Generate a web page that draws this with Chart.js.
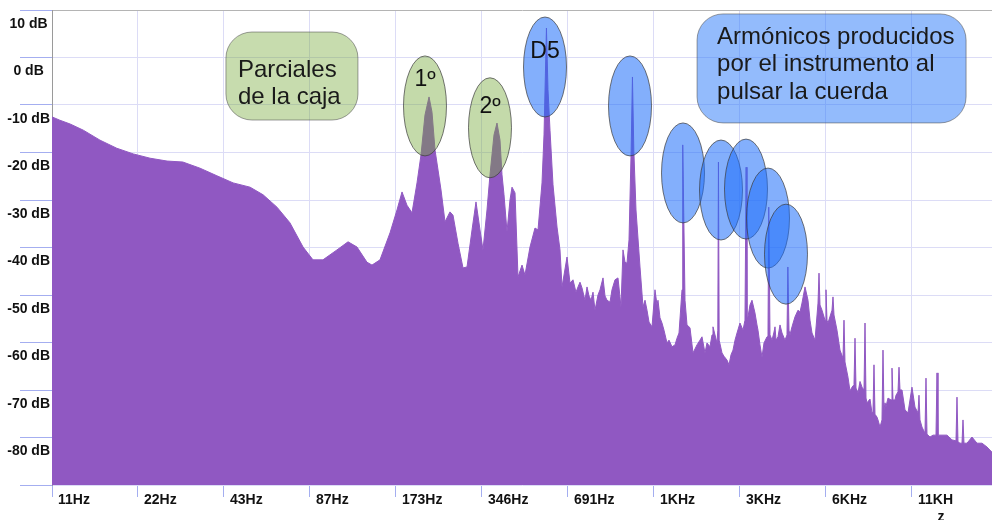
<!DOCTYPE html>
<html>
<head>
<meta charset="utf-8">
<script src="https://cdn.jsdelivr.net/npm/chart.js@4.4.1/dist/chart.umd.min.js"></script>
<style>
  html, body { margin: 0; padding: 0; background: #fff; }
  #grafico { display: block; }
</style>
</head>
<body>
<canvas id="grafico" width="992" height="520"></canvas>
<script>
// espectro de la guitarra (frecuencia en Hz, nivel en dB)
var freqHz = [
  10.8, 11.5, 12.5, 13.9, 15.9, 18.2, 20.8, 23.8, 27.3, 31.0,
  35.6, 40.8, 46.5, 53.3, 59.2, 66.2, 73.5, 81.7, 88.5, 95.9,
  107.4, 117.4, 126.2, 136.8, 142.4, 151.9, 164.7, 174.2, 181.4, 188.8,
  196.6, 204.7, 211.4, 218.3, 225.5, 231.0, 236.7, 242.5, 248.4, 256.5,
  267.0, 273.6, 284.8, 296.6, 306.3, 318.9, 329.3, 340.1, 348.4, 359.8,
  368.6, 380.7, 390.0, 399.6, 406.1, 412.7, 422.8, 433.1, 440.2, 451.0,
  462.0, 477.2, 488.7, 508.9, 529.8, 542.8, 560.6, 569.7, 581, 588.3,
  597.9, 612.6, 632.7, 648.1, 658.7, 685.8, 702.5, 719.6, 737.2, 749.3,
  761.4, 773.8, 792.7, 805.7, 818.7, 832.1, 845.6, 859.3, 880.4, 894.7,
  916.6, 931.5, 946.7, 969.8, 985.4, 1009.6, 1034.3, 1059.6, 1076.8, 1094.4,
  1112.1, 1130.3, 1150, 1162, 1175, 1195.8, 1235.0, 1265.3, 1285.8, 1306.8,
  1328, 1360.6, 1393.6, 1416.3, 1427.7, 1451, 1474.5, 1498.5, 1535.2, 1560.2,
  1598.3, 1637.5, 1664.1, 1691.2, 1732.6, 1743, 1775.0, 1803.9, 1848.0, 1893.3,
  1955.0, 2003, 2035.4, 2085.4, 2119.2, 2171.2, 2206.5, 2224.3, 2297, 2312,
  2324, 2338, 2391.7, 2430.7, 2490.1, 2530.6, 2571.7, 2613.5, 2656, 2699.1,
  2764.8, 2832.5, 2878.4, 2905, 2925.4, 2948.9, 2997, 3045.7, 3120.4, 3171,
  3196.7, 3248.6, 3301.5, 3355.1, 3437.3, 3465.1, 3486, 3521.5, 3578.8, 3636.9,
  3666.4, 3696, 3756.3, 3817, 3879.3, 3973.9, 4038.3, 4067, 4104.1, 4137.3,
  4204.5, 4307.3, 4412.9, 4484.5, 4557.5, 4669.2, 4783.4, 4861.4, 4940.1, 5061.3,
  5185.1, 5227.1, 5269.4, 5355.1, 5486.2, 5529.6, 5574.4, 5619.7, 5803.9, 5850.9,
  5897.9, 6042.8, 6190.4, 6341.9, 6393.3, 6445.3, 6602.9, 6710, 6819.6, 6930.2,
  6986.7, 7043.1, 7157.6, 7273.8, 7391.9, 7512.5, 7573.3, 7634.7, 7696.1, 7883.6,
  8011.9, 8076.6, 8141.9, 8208.2, 8341.5, 8409, 8545.5, 8684.8, 8755.0, 8825.8,
  8897.1, 8969, 9115.0, 9338.4, 9413.6, 9489.9, 9644.2, 9722, 9880.3, 9960.5,
  10041.2, 10204.3, 10454.3, 10710.3, 11059, 11330, 11608, 11702, 11796, 11988,
  12281, 12381, 12481, 12786, 13099, 13420, 13530, 13639, 13860, 14665,
  15269, 15767, 15895, 16023, 16283, 16549, 16683, 16817, 17229, 17938,
  18676, 19445, 20245, 21077
];
var levelDb = [
  -9.5, -10.2, -11.0, -12.3, -14.4, -16.1, -17.3, -18.2, -18.8, -19.0,
  -20.3, -21.9, -23.4, -24.3, -25.9, -28.5, -31.8, -36.9, -39.6, -39.6,
  -37.5, -35.8, -36.9, -40.1, -40.7, -39.6, -33.9, -29.1, -25.3, -28.1,
  -29.7, -23.4, -17.5, -9.1, -5.3, -8.5, -16.5, -20.7, -24.9, -31.6,
  -29.5, -30.2, -36.1, -41.3, -41.1, -33.3, -27.4, -33.3, -37.5, -29.1,
  -21.7, -13.3, -10.8, -14.4, -21.7, -25.9, -33.7, -27.0, -24.3, -25.5,
  -43.2, -40.7, -42.8, -36.9, -32.9, -33.3, -23.4, -13.3, 9.2, -3.8,
  -12.3, -23.8, -32.7, -37.5, -45.3, -39.0, -44.5, -43.8, -46.4, -45.3,
  -44.3, -45.5, -48.1, -45.3, -47.2, -48.1, -46.4, -50.2, -47.0, -45.9,
  -43.4, -47.2, -48.1, -48.5, -45.9, -43.8, -43.4, -49.5, -37.5, -40.1,
  -40.3, -35.4, -16.5, -1.1, -16.5, -29.1, -41.1, -49.5, -48.1, -50.2,
  -52.7, -53.7, -45.9, -49.1, -48.1, -51.8, -52.9, -54.4, -57.1, -56.5,
  -57.9, -57.5, -56.1, -55.0, -45.9, -15.4, -48.1, -53.3, -53.9, -59.2,
  -57.5, -56.5, -55.8, -59.2, -57.1, -57.9, -55.4, -53.7, -57.1, -54.4,
  -19.0, -56.5, -59.2, -59.9, -60.7, -61.7, -59.6, -58.6, -56.5, -55.0,
  -52.9, -54.4, -52.3, -20.1, -52.3, -51.6, -49.1, -48.1, -50.8, -53.3,
  -54.4, -57.5, -60.1, -57.1, -55.8, -55.4, -28.5, -55.4, -56.5, -54.8,
  -53.7, -56.5, -55.8, -53.3, -55.0, -56.5, -55.4, -41.1, -54.4, -55.4,
  -53.7, -51.6, -50.2, -50.6, -48.7, -45.3, -48.1, -52.3, -55.0, -56.5,
  -48.7, -42.4, -49.1, -50.2, -52.3, -45.9, -52.3, -52.9, -50.2, -47.4,
  -51.2, -54.4, -58.6, -60.3, -52.3, -61.1, -64.3, -67.2, -66.4, -65.9,
  -56.1, -66.6, -67.6, -65.2, -66.4, -67.0, -52.9, -68.7, -69.7, -68.9,
  -71.8, -71.6, -61.7, -72.1, -72.7, -73.3, -74.8, -73.3, -58.6, -71.2,
  -69.7, -70.5, -68.7, -69.1, -62.4, -69.1, -69.1, -68.1, -67.4, -62.2,
  -67.0, -67.0, -71.2, -71.8, -66.4, -70.6, -71.8, -68.1, -73.3, -74.8,
  -76.1, -64.5, -76.3, -76.9, -76.5, -76.5, -63.4, -76.5, -76.5, -76.5,
  -77.5, -77.7, -68.5, -77.9, -78.2, -78.2, -73.3, -78.2, -78.2, -76.9,
  -78.2, -78.2, -79.0, -80.1
];

// ejes
var xTickHz = [10.8, 21.6, 43.2, 86.4, 172.8, 345.6, 691.2, 1382.4, 2764.8, 5529.6, 11059.2];
var xTickLabels = ['11Hz', '22Hz', '43Hz', '87Hz', '173Hz', '346Hz', '691Hz', '1KHz', '3KHz', '6KHz', ['11KH', '     z']];
var yGridDb = [-87, -77, -67, -57, -47, -37, -27, -17, -7, 3, 13];
var yTickLabels = ['', '-80 dB', '-70 dB', '-60 dB', '-50 dB', '-40 dB', '-30 dB', '-20 dB', '-10 dB', '0 dB', '10 dB'];

var morado = '#9058c2';
var lila = '#dcdcf6';
var azulTick = '#a4aef0';

// anotaciones (centro en Hz / dB)
var verde = 'rgba(115,167,53,0.42)';
var azul = 'rgba(30,110,250,0.55)';
var elipses = [
  { hz: 218.3, db: -7.2, color: verde, texto: '1º', dy: -26 },
  { hz: 368.6, db: -11.8, color: verde, texto: '2º', dy: -21 },
  { hz: 574.3, db: 1.0, color: azul, texto: 'D5', dy: -15 },
  { hz: 1139.4, db: -7.2, color: azul },
  { hz: 1746.7, db: -21.3, color: azul },
  { hz: 2372.5, db: -24.9, color: azul },
  { hz: 2902, db: -24.7, color: azul },
  { hz: 3465, db: -30.8, color: azul },
  { hz: 4006, db: -38.4, color: azul }
];
var cajas = [
  { hz: 74.7, db: -0.9, w: 132, h: 88, color: 'rgba(115,167,53,0.4)',
    lineas: ['Parciales', 'de la caja'], tx: 12, ty: 38 },
  { hz: 5784, db: 0.7, w: 269, h: 109, color: 'rgba(40,120,250,0.5)',
    lineas: ['Armónicos producidos', 'por el instrumento al', 'pulsar la cuerda'], tx: 20, ty: 23 }
];

var notas = {
  id: 'notas',
  afterDatasetsDraw: function (chart) {
    var ctx = chart.ctx;
    var sx = chart.scales.x, sy = chart.scales.y;
    ctx.save();
    ctx.font = '24px "Liberation Sans", Arial, sans-serif';
    ctx.textBaseline = 'middle';

    cajas.forEach(function (c) {
      var cx = sx.getPixelForValue(c.hz), cy = sy.getPixelForValue(c.db);
      var x0 = cx - c.w / 2, y0 = cy - c.h / 2;
      ctx.beginPath();
      ctx.roundRect(x0, y0, c.w, c.h, 26);
      ctx.fillStyle = c.color;
      ctx.fill();
      ctx.lineWidth = 1;
      ctx.strokeStyle = 'rgba(80,80,80,0.55)';
      ctx.stroke();
      ctx.fillStyle = '#1a1a1a';
      ctx.textAlign = 'left';
      c.lineas.forEach(function (t, i) {
        ctx.fillText(t, x0 + c.tx, y0 + c.ty + i * 27.5);
      });
    });

    elipses.forEach(function (e) {
      var cx = sx.getPixelForValue(e.hz), cy = sy.getPixelForValue(e.db);
      ctx.beginPath();
      ctx.ellipse(cx, cy, 21.5, 50, 0, 0, Math.PI * 2);
      ctx.fillStyle = e.color;
      ctx.fill();
      ctx.lineWidth = 1;
      ctx.strokeStyle = 'rgba(60,60,60,0.7)';
      ctx.stroke();
    });
    ctx.font = '23px "Liberation Sans", Arial, sans-serif';
    elipses.forEach(function (e) {
      if (!e.texto) return;
      var cx = sx.getPixelForValue(e.hz), cy = sy.getPixelForValue(e.db);
      ctx.fillStyle = '#111';
      ctx.textAlign = 'center';
      ctx.fillText(e.texto, cx, cy + e.dy);
    });
    ctx.restore();
  }
};

var fuenteEje = { family: '"Liberation Sans", Arial, sans-serif', weight: 'bold', size: 14 };

new Chart(document.getElementById('grafico'), {
  type: 'line',
  data: {
    datasets: [{
      data: freqHz.map(function (f, i) { return { x: f, y: levelDb[i] }; }),
      borderColor: morado,
      backgroundColor: morado,
      borderWidth: 1,
      pointRadius: 0,
      tension: 0,
      fill: 'start'
    }]
  },
  options: {
    responsive: false,
    animation: false,
    layout: { padding: { top: 10, left: 0, right: 0, bottom: 0 } },
    plugins: { legend: { display: false }, tooltip: { enabled: false } },
    scales: {
      x: {
        type: 'logarithmic',
        min: 10.8,
        max: 21077,
        afterBuildTicks: function (axis) {
          axis.ticks = xTickHz.map(function (v) { return { value: v }; });
        },
        afterFit: function (axis) { axis.height = 35; },
        border: { display: false },
        grid: { color: lila, tickColor: azulTick, tickLength: 12 },
        ticks: {
          autoSkip: false,
          maxRotation: 0,
          minRotation: 0,
          align: 'start',
          labelOffset: 6,
          padding: -5,
          color: '#111',
          font: fuenteEje,
          callback: function (v, i) { return xTickLabels[i]; }
        }
      },
      y: {
        type: 'linear',
        min: -87,
        max: 13,
        afterBuildTicks: function (axis) {
          axis.ticks = yGridDb.map(function (v) { return { value: v }; });
        },
        afterFit: function (axis) { axis.width = 52; },
        border: { display: true, color: '#9a9a9a' },
        grid: {
          color: function (c) { return c.tick && c.tick.value === 13 ? '#b4b4b4' : lila; },
          tickColor: azulTick,
          tickLength: 32
        },
        ticks: {
          crossAlign: 'center',
          padding: -30,
          labelOffset: 14,
          color: '#111',
          font: fuenteEje,
          showLabelBackdrop: true,
          backdropColor: '#fff',
          backdropPadding: 2,
          callback: function (v) { return yTickLabels[yGridDb.indexOf(v)]; }
        }
      }
    }
  },
  plugins: [notas]
});
</script>
</body>
</html>
